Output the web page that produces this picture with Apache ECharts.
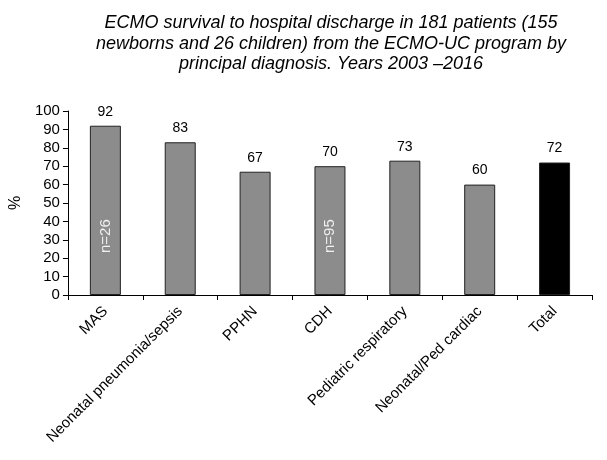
<!DOCTYPE html>
<html>
<head>
<meta charset="utf-8">
<script src="https://cdn.jsdelivr.net/npm/echarts@6/dist/echarts.min.js"></script>
<style>
html, body { margin: 0; padding: 0; background: #fff; }
#chart { width: 607px; height: 460px; }
</style>
</head>
<body>
<div id="chart"></div>
<script>
// survival by principal diagnosis
var categories = ['MAS', 'Neonatal pneumonia/sepsis', 'PPHN', 'CDH', 'Pediatric respiratory', 'Neonatal/Ped cardiac', 'Total'];
var survival = [92, 83, 67, 70, 73, 60, 72];
var nLabels = ['n=26', '', '', 'n=95', '', '', ''];
var yTicks = [0, 10, 20, 30, 40, 50, 60, 70, 80, 90, 100];

var myChart = echarts.init(document.getElementById('chart'));

var barData = [];
for (var i = 0; i < survival.length; i++) {
    barData.push({
        value: survival[i],
        itemStyle: { color: categories[i] == 'Total' ? '#000' : '#8c8c8c' }
    });
}

var option = {
    animation: false,
    textStyle: { fontFamily: 'Liberation Sans, Arial, sans-serif' },
    title: {
        text: 'ECMO survival to hospital discharge in 181 patients (155\nnewborns and 26 children) from the ECMO-UC program by\nprincipal diagnosis. Years 2003 \u20132016',
        left: 326,
        top: 8,
        textAlign: 'center',
        textStyle: { fontSize: 18, fontStyle: 'italic', fontWeight: 'normal', color: '#000', lineHeight: 20.5 }
    },
    grid: { left: 67, right: 15, top: 111, bottom: 165 },
    xAxis: {
        type: 'category',
        data: categories,
        axisLine: { lineStyle: { color: '#000', width: 1 } },
        axisTick: { show: true, length: 5, lineStyle: { color: '#000' } },
        axisLabel: { rotate: 45, interval: 0, color: '#000', fontSize: 15, margin: 14 }
    },
    yAxis: {
        type: 'value',
        min: yTicks[0],
        max: yTicks[yTicks.length - 1],
        interval: 10,
        name: '%',
        nameLocation: 'middle',
        nameGap: 43,
        nameTextStyle: { fontSize: 16, color: '#000' },
        axisLine: { show: true, lineStyle: { color: '#000' } },
        axisTick: { show: true, length: 5, lineStyle: { color: '#000' } },
        axisLabel: { color: '#000', fontSize: 15, margin: 8 },
        splitLine: { show: false }
    },
    series: [{
        type: 'bar',
        data: barData,
        barWidth: 31,
        itemStyle: { borderColor: '#222', borderWidth: 1 },
        label: { show: true, position: 'top', color: '#000', fontSize: 14, distance: 7 }
    }, {
        type: 'bar',
        data: survival,
        barWidth: 31,
        barGap: '-100%',
        itemStyle: { color: 'rgba(0,0,0,0)' },
        label: {
            show: true,
            position: 'insideBottom',
            rotate: 90,
            align: 'left',
            verticalAlign: 'middle',
            distance: 42,
            color: '#f0f0f0',
            fontSize: 15,
            formatter: function (p) { return nLabels[p.dataIndex]; }
        },
        silent: true
    }]
};
myChart.setOption(option);
</script>
</body>
</html>
